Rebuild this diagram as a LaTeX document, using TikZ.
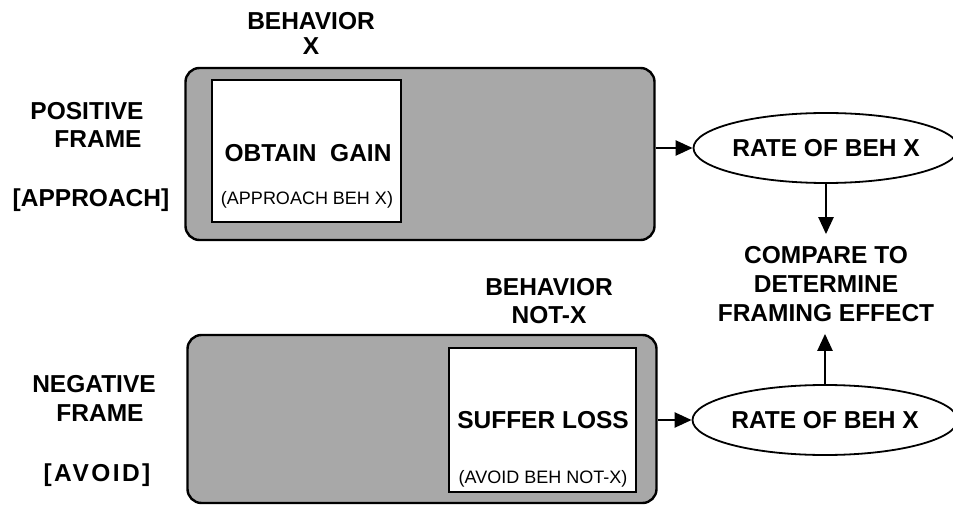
\documentclass[tikz,border=0pt]{standalone}
\usepackage{fontspec}
\setmainfont{Liberation Sans}
\usetikzlibrary{shapes.geometric,arrows.meta}
\tikzset{
  x=1pt,y=-1pt,
  big/.style={font=\fontsize{24.5}{29}\bfseries\selectfont, inner sep=0pt},
  small/.style={font=\fontsize{18}{20}\selectfont, inner sep=0pt},
  outerbox/.style={draw, line width=2.4pt, rounded corners=14pt, fill=black!34},
  innerbox/.style={draw, line width=1.8pt, fill=white},
  rateell/.style={ellipse, draw, line width=1.8pt, fill=white, inner sep=0pt,
     font=\fontsize{24.5}{29}\bfseries\selectfont},
  arr/.style={line width=2.4pt, -{Triangle[length=17pt,width=15pt]}},
}
\begin{document}
\begin{tikzpicture}
\useasboundingbox (0,0) rectangle (953,505);
% frames
\node[outerbox, minimum width=469pt, minimum height=172pt] (posbox) at (420,154) {};
\node[outerbox, minimum width=469pt, minimum height=168pt] (negbox) at (422,419) {};
\node[innerbox, minimum width=189pt, minimum height=142pt] (gainbox) at (306.5,151) {};
\node[innerbox, minimum width=187pt, minimum height=144pt] (lossbox) at (542.5,420) {};
% inner texts
\node[big] (gain) at (308,153) {OBTAIN\ \ GAIN};
\node[small] (appr) at (307,200) {(APPROACH BEH X)};
\node[big] (loss) at (543,420) {SUFFER LOSS};
\node[small] (avoidnx) at (543,479) {(AVOID BEH NOT-X)};
% labels
\node[big] (behx1) at (311,21.5) {BEHAVIOR};
\node[big] (behx2) at (311,46.5) {X};
\node[big] (behn1) at (549,287) {BEHAVIOR};
\node[big] (behn2) at (549,315) {NOT-X};
\node[big] (pos1) at (87,111) {POSITIVE};
\node[big] (pos2) at (98,139) {FRAME};
\node[big] (appro) at (91,200) {[APPROACH]};
\node[big] (neg1) at (94,384) {NEGATIVE};
\node[big] (neg2) at (100,413) {FRAME};
\node[big] (avoid) at (97,475) {\addfontfeature{LetterSpace=10}[AVOID]};
% ellipses
\node[rateell, minimum width=242pt, minimum height=70pt] (rate1) at (826,148) {RATE OF BEH X};
\node[rateell, minimum width=240pt, minimum height=70pt] (rate2) at (825,420) {RATE OF BEH X};
% compare
\node[big, align=center, inner ysep=12pt] (cmp) at (826,284) {COMPARE TO\\DETERMINE\\FRAMING EFFECT};
% arrows
\draw[arr] (posbox.east |- rate1.west) -- (rate1.west);
\draw[arr] (negbox.east |- rate2.west) -- (rate2.west);
\draw[arr] (rate1.south) -- (rate1.south |- cmp.north);
\draw[arr] (rate2.north) -- (rate2.north |- cmp.south);
\end{tikzpicture}
\end{document}
